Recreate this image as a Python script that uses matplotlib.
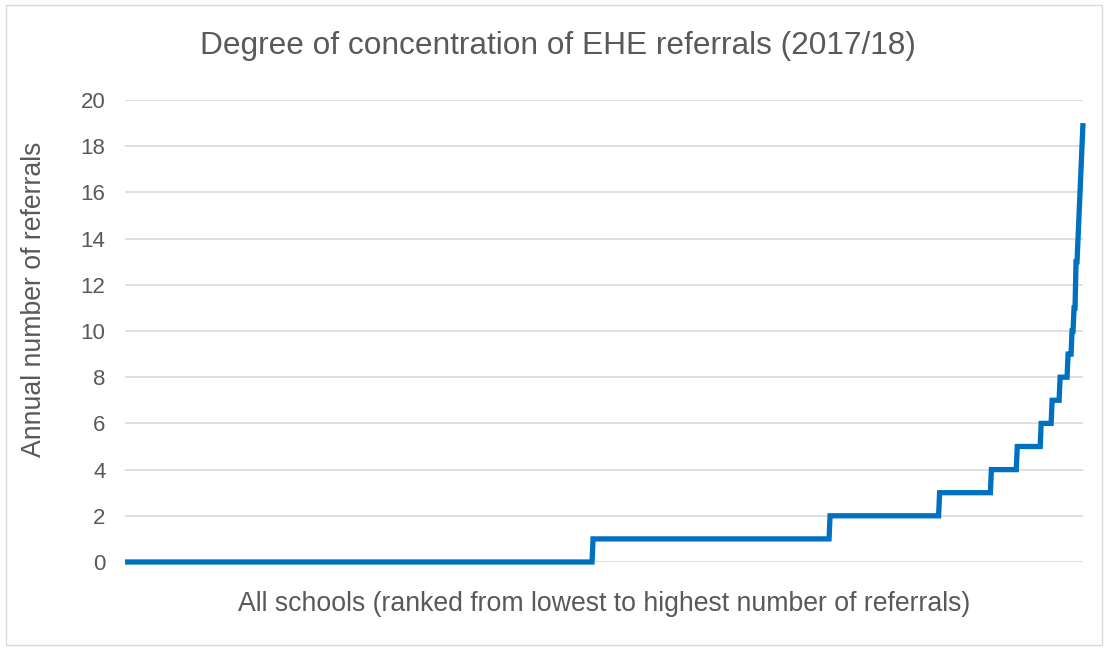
import numpy as np
import matplotlib.pyplot as plt
from matplotlib.patches import Rectangle

# referrals per school -> how many schools have that many
referrals = [0, 1, 2, 3, 4, 5, 6, 7, 8, 9, 10, 11, 13, 14, 15, 16, 17, 18, 19]
n_schools = [470, 238, 110, 52, 26, 24, 11, 8, 8, 4, 2, 2, 2, 1, 1, 1, 1, 1, 1]
y_ticks = [0, 2, 4, 6, 8, 10, 12, 14, 16, 18, 20]

ranked = np.repeat(referrals, n_schools)
x = np.arange(len(ranked))

plt.rcParams['font.family'] = ['Liberation Sans', 'DejaVu Sans']
grey = "#595959"

fig = plt.figure(figsize=(11.07, 6.48), dpi=100)
fig.patches.append(Rectangle((6 / 1107, 3 / 648), 1096 / 1107, 640 / 648,
                             transform=fig.transFigure, fill=False,
                             edgecolor="#d9d9d9", linewidth=1))

ax = fig.add_axes([125 / 1107, 86 / 648, 958 / 1107, 462 / 648])
ax.plot(x, ranked, color="#0070C0", linewidth=3.8, clip_on=False,
        solid_joinstyle="miter", solid_capstyle="butt", zorder=3)

ax.set_xlim(0, len(ranked) - 1)
ax.set_ylim(0, 20)
ax.set_yticks(y_ticks)
ax.set_xticks([])
ax.grid(axis="y", color="#d9d9d9", linewidth=1.2)
ax.set_axisbelow(True)
for s in ax.spines.values():
    s.set_visible(False)
ax.tick_params(axis="y", length=0, pad=14, labelsize=16, labelcolor=grey)

# title and y label are placed on the figure, like in the Excel original
fig.text(558 / 1107, 1 - 54 / 648, "Degree of concentration of EHE referrals (2017/18)",
         fontsize=22.8, color=grey, ha="center", va="baseline")
fig.text(34 / 1107, 1 - 299 / 648, "Annual number of referrals",
         fontsize=19.2, color=grey, rotation=90, ha="center", va="center")
ax.set_xlabel("All schools (ranked from lowest to highest number of referrals)",
              fontsize=19.2, color=grey, labelpad=21)

plt.savefig("out.png", dpi=100)
